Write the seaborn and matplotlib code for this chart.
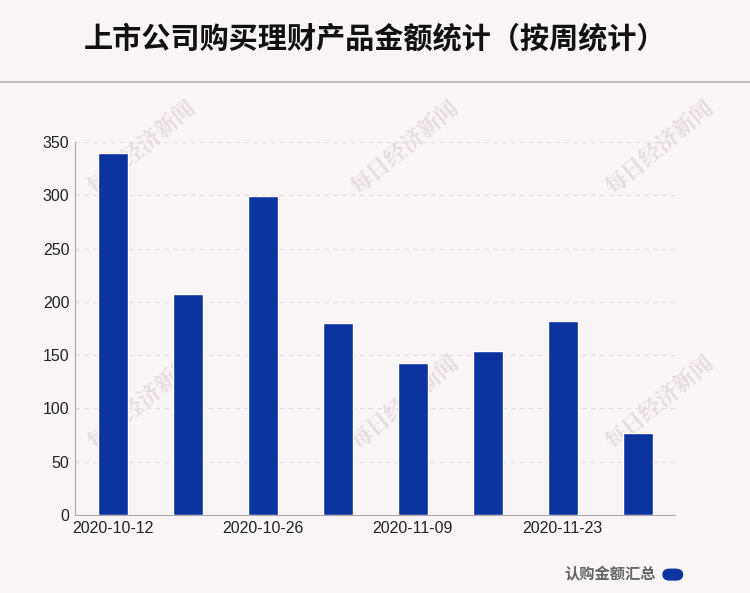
import matplotlib
matplotlib.use("Agg")
import matplotlib.pyplot as plt
import seaborn as sns
import pandas as pd
from matplotlib.patches import FancyBboxPatch

sns.set_style("white")
plt.rcParams["font.family"] = ["Liberation Sans", "Noto Sans CJK SC", "DejaVu Sans"]

weeks = ["2020-10-12", "2020-10-19", "2020-10-26", "2020-11-02",
         "2020-11-09", "2020-11-16", "2020-11-23", "2020-11-30"]
amounts = [340, 207, 299, 180, 143, 154, 182, 77]
yticks = [0, 50, 100, 150, 200, 250, 300, 350]

df = pd.DataFrame({"week": weeks, "amount": amounts})
bg = "#f9f5f6"
blue = "#0c349f"
cjk = ["Noto Sans CJK SC", "DejaVu Sans"]

fig = plt.figure(figsize=(7.5, 5.93), dpi=100, facecolor=bg)
ax = fig.add_axes([0.1, 0.1315, 0.8, 0.629])
ax.set_facecolor("none")
sns.barplot(data=df, x="week", y="amount", color=blue, width=0.4,
            saturation=1, ax=ax)
ax.set_xlim(-0.5, 7.5)
ax.set_ylim(0, 350)
ax.set_yticks(yticks)
ax.set_xticks(range(0, 8, 2))
ax.set_xticklabels(weeks[::2])
ax.set_xlabel("")
ax.set_ylabel("")
ax.tick_params(axis="both", labelsize=11.5, colors="#222222", length=0, pad=4)
for y in yticks[1:]:
    ax.axhline(y, color="#e2dcdf", lw=0.8, ls=(0, (4, 4)), zorder=0)
for s in ["top", "right"]:
    ax.spines[s].set_visible(False)
for s in ["left", "bottom"]:
    ax.spines[s].set_color("#aaaaaa")
ax.text(-0.5, 1.02, "亿元", transform=ax.get_yaxis_transform(), fontsize=8,
        color="#aaaaaa", va="bottom", ha="left", family=cjk)

fig.text(0.5, 0.935, "上市公司购买理财产品金额统计（按周统计）", ha="center",
         va="center", fontsize=21, fontweight="bold", color="#111111", family=cjk)
fig.add_artist(plt.Line2D([0, 1], [0.862, 0.862], color="#bbbbbb", lw=1.5))

for x, y in [(0.19, 0.75), (0.54, 0.75), (0.88, 0.75),
             (0.19, 0.32), (0.54, 0.32), (0.88, 0.32)]:
    fig.text(x, y, "每日经济新闻", rotation=40, fontsize=16, color="#e6dde1",
             ha="center", va="center", fontweight="bold", zorder=-1,
             family=["Noto Serif CJK SC", "Noto Sans CJK SC"])

fig.text(0.875, 0.032, "认购金额汇总", ha="right", va="center", fontsize=11,
         fontweight="bold", color="#666666", family=cjk)
fig.add_artist(FancyBboxPatch((0.884, 0.022), 0.026, 0.018,
                              boxstyle="round,pad=0,rounding_size=0.009",
                              transform=fig.transFigure, color=blue))

fig.savefig("out.png", dpi=100, facecolor=bg)
